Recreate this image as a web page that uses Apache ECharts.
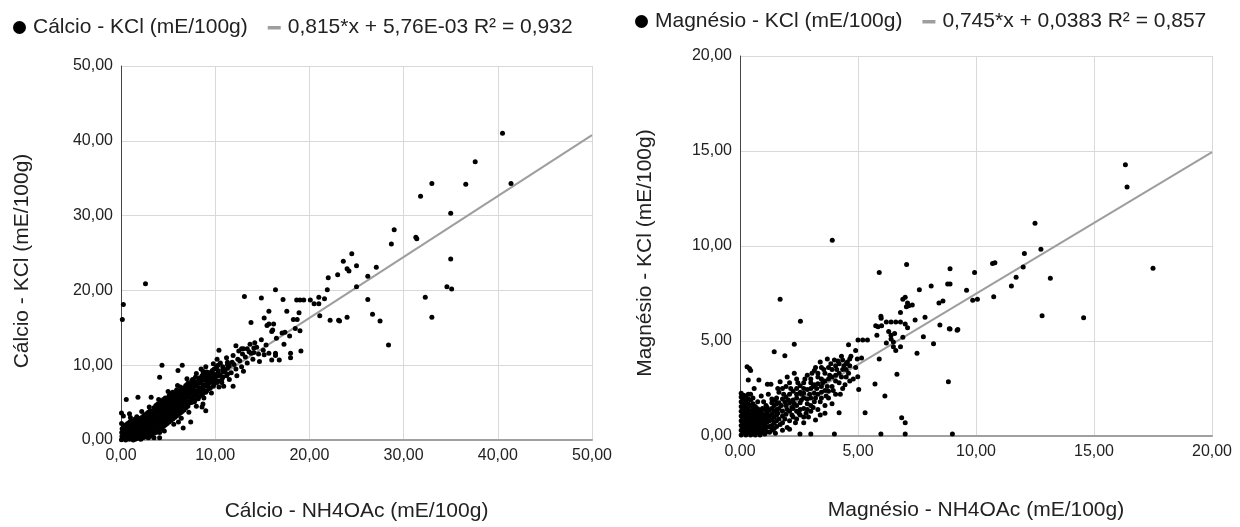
<!DOCTYPE html>
<html>
<head>
<meta charset="utf-8">
<style>
  html, body { margin: 0; padding: 0; background: #fff; }
  #chart { width: 1240px; height: 527px; }
</style>
<script src="https://cdn.jsdelivr.net/npm/echarts@6.0.0/dist/echarts.min.js"></script>
</head>
<body>
<div id="chart"></div>
<script>
// --- Cálcio: NH4OAc (x) vs KCl (y) ---
const calcioNome = 'Cálcio - KCl (mE/100g)';
const calcioTendNome = '0,815*x + 5,76E-03 R² = 0,932';
const calcioTend = [0.815, 0.00576]; // inclinação, intercepto
const calcioEixoX = [0, 50, 10];
const calcioEixoY = [0, 50, 10];

// nuvem densa junto da reta
const calcioBanda = [
  [0.05,0.02],[0.1,0.5],[0.08,1.0],[0.12,1.5],[0.06,2.2],
  [0.5,0.0],[0.45,0.4],[0.55,0.9],[0.5,1.4],[0.48,2.0],
  [0.9,0.1],[0.95,0.5],[0.85,1.0],[0.9,1.6],[0.92,2.4],
  [1.3,0.0],[1.25,0.6],[1.35,1.1],[1.3,1.7],[1.28,2.3],
  [1.7,0.2],[1.75,0.8],[1.65,1.3],[1.7,1.9],[1.72,2.6],[1.68,3.1],
  [2.1,0.1],[2.15,0.6],[2.05,1.1],[2.1,1.7],[2.12,2.3],[2.08,2.9],
  [2.5,0.4],[2.55,1.0],[2.45,1.5],[2.5,2.1],[2.52,2.7],[2.48,3.3],
  [2.9,0.3],[2.95,0.9],[2.85,1.5],[2.9,2.0],[2.92,2.6],[2.88,3.2],[2.9,3.7],
  [3.3,0.7],[3.35,1.3],[3.25,1.9],[3.3,2.5],[3.32,3.0],[3.28,3.6],
  [3.7,1.0],[3.75,1.6],[3.65,2.2],[3.7,2.8],[3.72,3.4],[3.68,4.0],[3.7,4.6],
  [4.1,1.4],[4.15,2.0],[4.05,2.6],[4.1,3.2],[4.12,3.8],[4.08,4.4],
  [4.5,1.8],[4.55,2.4],[4.45,3.0],[4.5,3.6],[4.52,4.2],[4.48,4.8],[4.5,5.4],
  [4.9,2.2],[4.95,2.8],[4.85,3.4],[4.9,4.0],[4.92,4.6],[4.88,5.2],
  [5.3,2.6],[5.35,3.2],[5.25,3.8],[5.3,4.4],[5.32,5.0],[5.28,5.6],[5.3,6.2],
  [5.7,3.0],[5.75,3.6],[5.65,4.2],[5.7,4.8],[5.72,5.4],[5.68,6.0],
  [6.1,3.4],[6.15,4.0],[6.05,4.6],[6.1,5.2],[6.12,5.8],[6.08,6.4],
  [6.5,3.8],[6.55,4.4],[6.45,5.0],[6.5,5.6],[6.52,6.2],[6.48,6.9],
  [6.9,4.3],[6.95,4.9],[6.85,5.5],[6.9,6.1],[6.92,6.7],[6.88,7.3],
  [7.2,4.9],[7.4,5.5],[7.1,6.1],[7.45,6.5],[7.3,7.3],
  [7.8,5.1],[7.6,5.8],[7.9,6.2],[7.65,7.0],[7.85,7.5],[7.6,8.1],
  [8.2,5.5],[8.0,6.3],[8.25,6.7],[8.05,7.5],[8.3,8.1],
  [8.6,6.0],[8.4,6.5],[8.7,7.1],[8.45,7.9],[8.6,8.6],
  [9.0,6.4],[8.8,7.3],[9.1,7.6],[8.85,8.2],[9.05,9.0],
  [9.4,6.9],[9.2,7.4],[9.5,8.2],[9.35,8.8],
  [9.8,7.2],[9.6,7.9],[9.9,8.5],[9.7,9.3],
  [10.2,7.7],[10.0,8.4],[10.3,8.9],[10.15,9.8],
  [10.7,8.1],[10.5,8.7],[10.8,9.4],[10.55,10.3],
  [11.2,8.6],[11.0,9.2],[11.3,10.1],
  [11.7,9.0],[11.5,9.9],[11.8,10.4],
  [12.2,9.5],[12.0,10.1],[12.4,10.8],
  [12.8,9.8],[12.6,10.6],[12.9,11.5],
  [13.4,10.3],[13.2,11.1],[13.6,11.8],
  [14.0,10.8],[13.8,11.6],
  [14.6,11.5],[14.4,12.4]
];

// segunda camada da nuvem, entre os pontos acima
const calcioBanda2 = [
  [0.3,0.25],[0.3,0.75],[0.3,1.25],[0.3,1.8],
  [0.7,0.2],[0.7,0.7],[0.7,1.2],[0.7,1.7],[0.7,2.2],
  [1.1,0.3],[1.1,0.8],[1.1,1.35],[1.1,1.9],[1.1,2.6],
  [1.5,0.1],[1.5,0.5],[1.5,1.05],[1.5,1.6],[1.5,2.2],[1.5,2.8],
  [1.9,0.4],[1.9,0.95],[1.9,1.5],[1.9,2.1],[1.9,2.7],
  [2.3,0.3],[2.3,0.85],[2.3,1.4],[2.3,2.0],[2.3,2.6],[2.3,3.1],
  [2.7,0.65],[2.7,1.25],[2.7,1.8],[2.7,2.35],[2.7,2.9],[2.7,3.5],
  [3.1,0.5],[3.1,1.1],[3.1,1.7],[3.1,2.25],[3.1,2.8],[3.1,3.35],[3.1,3.9],
  [3.5,0.9],[3.5,1.5],[3.5,2.1],[3.5,2.6],[3.5,3.2],[3.5,3.8],[3.5,4.3],
  [3.9,1.2],[3.9,1.8],[3.9,2.4],[3.9,3.0],[3.9,3.6],[3.9,4.2],[3.9,4.8],
  [4.3,1.6],[4.3,2.2],[4.3,2.8],[4.3,3.4],[4.3,4.0],[4.3,4.6],[4.3,5.1],
  [4.7,2.0],[4.7,2.6],[4.7,3.2],[4.7,3.8],[4.7,4.4],[4.7,5.0],[4.7,5.6],
  [5.1,2.4],[5.1,3.0],[5.1,3.6],[5.1,4.2],[5.1,4.8],[5.1,5.4],[5.1,5.9],
  [5.5,2.8],[5.5,3.4],[5.5,4.0],[5.5,4.6],[5.5,5.2],[5.5,5.8],[5.5,6.4],
  [5.9,3.2],[5.9,3.8],[5.9,4.4],[5.9,5.0],[5.9,5.6],[5.9,6.2],[5.9,6.7],
  [6.3,3.6],[6.3,4.2],[6.3,4.8],[6.3,5.4],[6.3,6.0],[6.3,6.6],[6.3,7.1],
  [6.7,4.0],[6.7,4.6],[6.7,5.2],[6.7,5.8],[6.7,6.4],[6.7,7.0],
  [7.1,4.5],[7.1,5.1],[7.1,5.7],[7.1,6.4],[7.1,7.0],[7.1,7.6],
  [7.5,5.0],[7.5,5.6],[7.5,6.2],[7.5,6.8],[7.5,7.4],[7.5,7.9],
  [7.9,5.4],[7.9,6.0],[7.9,6.6],[7.9,7.2],[7.9,7.8],[7.9,8.4],
  [8.3,5.8],[8.3,6.4],[8.3,7.0],[8.3,7.6],[8.3,8.3],
  [8.7,6.2],[8.7,6.8],[8.7,7.4],[8.7,8.0],[8.7,8.7],[8.7,9.2],
  [9.1,6.6],[9.1,7.2],[9.1,7.9],[9.1,8.5],[9.1,9.1],
  [9.5,7.0],[9.5,7.7],[9.5,8.4],[9.5,9.0],
  [9.9,7.5],[9.9,8.1],[9.9,8.8],[9.9,9.5],
  [10.3,7.9],[10.3,8.6],[10.3,9.3],[10.3,10.0],
  [10.8,8.4],[10.8,9.1],[10.8,9.8],
  [11.3,8.8],[11.3,9.6],[11.3,10.4]
];

// bordas da nuvem, menos densas
const calcioBorda = [
  [12.3,8.6],[11.9,11.3],[12.5,11.9],[13.0,9.2],[11.2,11.0],[10.2,10.8],[9.8,10.2],
  [9.0,9.8],[8.5,9.5],[13.7,12.8],[14.7,10.5],[15.1,12.0],[14.9,13.4],[15.4,12.7],
  [12.2,12.6],[11.5,8.1],[10.7,7.7],
  [1.0,3.0],[2.2,3.8],[3.0,4.4],[4.0,5.4],[5.0,6.5],[6.0,7.3],[7.0,8.2],[8.0,8.9],
  [3.5,0.3],[4.6,1.2],[5.6,2.1],[6.4,2.9],[7.2,3.7],[8.0,4.5],[8.8,5.6],[9.6,6.3],[10.4,7.1]
];

// pontos soltos
const calcioDispersos = [
  [40.5,41.0],[37.6,37.2],[33.0,34.3],[41.4,34.3],[36.6,34.2],[31.8,32.6],[35.0,30.3],
  [29.0,28.1],[28.7,26.2],[31.3,27.1],[31.4,26.9],[24.5,24.9],[23.6,23.9],[24.0,22.9],
  [24.2,22.6],[25.0,23.3],[27.1,23.1],[26.2,21.9],[35.0,24.2],[25.0,20.5],[34.6,20.5],
  [35.1,20.2],[32.3,19.1],[26.2,18.8],[26.7,16.8],[27.5,15.9],[24.0,16.4],[33.0,16.4],
  [28.4,12.7],[23.2,15.9],
  [2.6,20.9],[0.25,18.1],[0.14,16.1],
  [22.0,21.7],[23.0,22.1],[21.9,20.1],[16.4,20.1],[13.1,19.2],[14.9,19.0],[17.2,18.8],
  [18.65,18.7],[19.0,18.7],[19.4,18.7],[20.1,18.7],[21.0,19.1],[21.6,18.9],[20.5,18.2],
  [21.0,18.2],[15.7,17.2],[17.6,17.2],[18.9,17.0],[21.1,16.6],[15.2,16.3],[18.3,16.1],
  [22.2,16.0],[23.1,16.0],[13.8,15.7],[15.7,15.5],[16.2,15.5],[18.7,16.1],[16.1,14.7],
  [16.0,14.5],[15.5,15.3],[16.5,13.6],[17.1,14.3],[17.4,14.4],[17.9,13.9],[18.5,14.9],
  [19.0,14.6],[17.3,12.8],[19.1,11.9],[18.0,11.6],[18.0,11.0],[16.4,11.6],[16.4,11.3],
  [16.0,10.7],[16.8,10.7],[15.7,11.6],[15.2,11.4],[14.2,13.0],[12.8,12.2],[13.0,12.2],
  [13.4,12.2],[10.4,12.0],[14.1,12.3],[14.1,11.7],
  [4.35,10.0],[6.5,10.0],[4.1,8.4],[6.05,9.3],[0.56,5.4],[1.8,5.7],[3.2,5.7],[0.05,3.6],
  [0.9,3.5],[0.25,3.2],[4.1,1.0],[4.1,0.3],[6.1,2.4],[6.6,1.6],[7.4,2.4],[8.7,4.8],
  [9.0,3.9],[8.6,4.4],[9.3,9.0],[9.1,8.4],[10.9,7.2],[11.9,7.2]
];

// --- Magnésio: NH4OAc (x) vs KCl (y) ---
const magnesioNome = 'Magnésio - KCl (mE/100g)';
const magnesioTendNome = '0,745*x + 0,0383 R² = 0,857';
const magnesioTend = [0.745, 0.0383];
const magnesioEixoX = [0, 20, 5];
const magnesioEixoY = [0, 20, 5];

const magnesioBanda = [
  [0.05,0.05],[0.05,0.3],[0.05,0.55],[0.05,0.8],[0.05,1.05],[0.05,1.3],[0.05,1.55],[0.05,1.8],[0.05,2.05],[0.05,2.25],
  [0.25,0.05],[0.25,0.3],[0.25,0.55],[0.25,0.8],[0.25,1.05],[0.25,1.3],[0.25,1.55],[0.25,1.8],[0.25,2.1],
  [0.45,0.05],[0.45,0.3],[0.45,0.55],[0.45,0.8],[0.45,1.05],[0.45,1.3],[0.45,1.6],[0.45,1.9],[0.45,2.2],
  [0.65,0.05],[0.65,0.3],[0.65,0.55],[0.65,0.8],[0.65,1.05],[0.65,1.3],[0.65,1.55],
  [0.85,0.05],[0.85,0.3],[0.85,0.55],[0.85,0.8],[0.85,1.05],[0.85,1.3],
  [1.05,0.1],[1.05,0.35],[1.05,0.6],[1.05,0.85],[1.05,1.1],[1.05,1.4],
  [1.25,0.2],[1.25,0.5],[1.25,0.8],[1.25,1.05],[1.25,1.35],
  [1.45,0.4],[1.45,0.7],[1.45,1.0],[1.45,1.3],[1.45,1.6],
  [1.5,1.9],[1.6,1.2],[1.7,0.6],[1.75,1.6],[1.85,2.2],[1.9,0.9],[2.0,1.4],[2.05,1.9],
  [2.15,2.5],[2.2,1.1],[2.3,1.7],[2.35,0.7],[2.4,2.2],[2.45,2.8],[2.55,1.4],[2.6,1.9],
  [2.7,2.5],[2.75,3.0],[2.8,1.2],[2.85,1.7],[2.95,2.2],[3.0,2.8],[3.05,3.3],[3.1,1.5],
  [3.2,2.0],[3.25,2.5],[3.3,3.1],[3.4,1.8],[3.45,2.3],[3.5,2.8],[3.55,3.5],[3.65,2.1],
  [3.7,2.6],[3.8,3.2],[3.85,3.8],[3.9,1.7],[3.95,2.4],[4.05,2.9],[4.1,3.5],[4.15,3.95],
  [4.25,2.2],[4.3,3.1],[4.4,3.7],[4.45,2.7],[4.55,3.9],[4.6,3.3],[4.7,4.2],[4.8,3.0],
  [4.9,3.6],[4.97,4.05],[5.15,4.1],[4.6,4.8],[4.9,4.5],[5.0,5.05],[5.2,5.05],[5.4,5.05],
  [5.03,2.45],[4.99,3.12],
  [0.8,2.95],[0.35,2.95],[0.3,3.65],[0.4,3.55],[0.45,3.45],[1.16,2.72],[1.31,2.72],
  [0.6,2.5],[0.9,2.1],[1.0,1.8],[1.2,2.2],[1.35,1.95],[1.1,1.6],[0.75,1.8],[1.7,2.86],
  [2.0,3.1],[2.3,3.3],[1.6,2.5],[2.1,0.35],[2.0,0.45],[3.2,0.84],[3.6,1.2],[4.2,1.23],
  [3.4,1.1],[2.7,0.7],[1.8,0.3],[1.5,0.15],[3.4,3.9],[3.7,4.05],[4.0,4.0],[3.2,3.6],
  [4.3,4.2],[4.5,3.5],[2.5,1.2],[2.9,1.0],[3.1,2.6],[2.6,2.2],[2.2,1.5],[1.9,1.8]
];

// segunda camada do bloco denso perto da origem
const magnesioBanda2 = [
  [0.15,0.18],[0.15,0.43],[0.15,0.68],[0.15,0.93],[0.15,1.18],[0.15,1.43],[0.15,1.68],[0.15,1.93],[0.15,2.15],
  [0.35,0.18],[0.35,0.43],[0.35,0.68],[0.35,0.93],[0.35,1.18],[0.35,1.43],[0.35,1.68],[0.35,1.95],[0.35,2.2],
  [0.55,0.18],[0.55,0.43],[0.55,0.68],[0.55,0.93],[0.55,1.18],[0.55,1.43],[0.55,1.7],[0.55,2.0],
  [0.75,0.18],[0.75,0.43],[0.75,0.68],[0.75,0.93],[0.75,1.18],[0.75,1.43],
  [0.95,0.18],[0.95,0.43],[0.95,0.68],[0.95,0.93],[0.95,1.18],[0.95,1.45],
  [1.15,0.22],[1.15,0.48],[1.15,0.72],[1.15,0.98],[1.15,1.22],[1.15,1.5],
  [1.35,0.3],[1.35,0.55],[1.35,0.85],[1.35,1.15],[1.35,1.45],[1.35,1.75],
  [1.55,0.5],[1.55,0.8],[1.55,1.1],[1.55,1.4],[1.55,1.7],[1.55,2.0],
  [1.65,0.9],[1.65,1.45],[1.65,1.75],[1.65,2.3],
  [1.8,0.7],[1.8,1.05],[1.8,1.3],[1.8,1.95],[1.8,2.5],
  [1.95,1.15],[1.95,1.6],[1.95,2.05],[1.95,2.6],
  [2.1,0.8],[2.1,1.3],[2.1,1.75],[2.1,2.2],[2.1,2.8],
  [2.25,1.0],[2.25,1.45],[2.25,1.9],[2.25,2.35],
  [2.4,0.9],[2.4,1.3],[2.4,1.6],[2.4,2.0],[2.4,2.5],[2.4,3.0],
  [2.55,1.1],[2.55,1.75],[2.55,2.3],[2.55,2.65],
  [2.7,1.0],[2.7,1.45],[2.7,2.0],[2.7,2.25],[2.7,2.8],
  [2.85,1.4],[2.85,1.95],[2.85,2.45],[2.85,3.2],
  [3.0,1.3],[3.0,1.6],[3.0,2.0],[3.0,2.5],[3.0,3.0],
  [3.15,1.8],[3.15,2.25],[3.15,2.7],[3.15,3.45],
  [3.3,1.4],[3.3,2.2],[3.3,2.75],[3.3,3.3],
  [3.45,2.0],[3.45,2.6],[3.45,3.0],[3.45,3.6],
  [3.6,1.6],[3.6,2.4],[3.6,2.9],[3.6,3.3],
  [3.75,2.0],[3.75,2.35],[3.75,3.0],[3.75,3.6],
  [3.9,2.6],[3.9,3.1],[3.9,3.5],
  [4.05,2.2],[4.05,3.2],[4.05,3.7],
  [4.2,2.8],[4.2,3.3],[4.2,3.8],
  [4.35,2.5],[4.35,3.5],[4.35,4.0],
  [4.5,3.1],[4.5,3.8],
  [4.65,2.9],[4.65,3.7],[4.65,4.05]
];

const magnesioDispersos = [
  [16.33,14.28],[16.4,13.1],[12.5,11.2],[12.75,9.83],[12.05,9.6],[10.7,9.08],[10.8,9.12],
  [9.94,8.6],[8.9,8.8],[8.9,8.0],[8.8,8.0],[12.0,8.9],[11.7,8.35],[13.15,8.3],[11.5,7.9],
  [9.6,7.67],[9.86,7.14],[10.06,7.2],[10.75,7.33],[17.5,8.83],[12.8,6.33],[14.56,6.23],
  [8.9,5.63],[9.2,5.56],[9.0,0.1],
  [3.91,10.3],[7.06,9.03],[5.9,8.6],[8.1,7.9],[7.6,7.7],[6.9,7.2],[7.0,7.3],[7.1,7.0],
  [7.3,6.9],[7.05,6.8],[7.15,6.85],[8.43,7.0],[8.6,7.1],[7.84,6.25],[6.8,6.5],[5.97,6.3],
  [5.98,6.2],[6.2,6.0],[6.4,6.0],[6.6,6.0],[6.8,6.0],[5.75,5.8],[5.85,5.75],[6.0,5.8],
  [7.0,5.9],[7.1,5.7],[8.47,5.84],[7.42,6.1],[6.3,5.5],[6.4,5.3],[6.5,4.95],[6.4,5.1],
  [6.55,5.4],[5.8,5.3],[6.9,5.2],[7.77,5.23],[8.87,5.65],[9.23,5.6],[8.83,2.86],[6.2,4.9],
  [6.5,4.7],[7.5,4.35],[6.6,4.5],[6.8,4.7],[5.9,4.05],[6.65,3.25],[5.72,2.74],[6.14,2.1],
  [5.3,1.23],[6.85,0.96],[7.0,0.7],[5.97,0.1],[7.0,0.1],[8.2,4.85],
  [1.45,4.44],[1.9,4.23],[2.3,4.83],[2.56,6.04],[1.7,7.2],[2.54,0.1],[3.0,0.1],[4.0,0.1]
];

const fonte = 'Liberation Sans';
const corTexto = '#222';
const fmt = v => v.toFixed(2).replace('.', ',');
const iconeTraco = 'path://M0,0 M17,13 M2,5 L15,5 L15,8.5 L2,8.5 Z';

function eixo(idx, lim, nome, gap, extra) {
  return Object.assign({
    type: 'value',
    gridIndex: idx,
    min: lim[0],
    max: lim[1],
    interval: lim[2],
    name: nome,
    nameLocation: 'middle',
    nameGap: gap,
    nameTextStyle: { fontFamily: fonte, fontSize: 21, color: corTexto },
    axisTick: { show: false },
    axisLabel: { formatter: fmt, fontFamily: fonte, fontSize: 16, color: corTexto },
    splitLine: { show: true, lineStyle: { color: '#d9d9d9', width: 1 } }
  }, extra);
}

function tendencia(coef, xmax) {
  return [[0, coef[1]], [xmax, coef[0] * xmax + coef[1]]];
}

const pontoEstilo = { color: '#000', opacity: 1 };

const chart = echarts.init(document.getElementById('chart'));
chart.setOption({
  animation: false,
  backgroundColor: '#fff',
  legend: [
    {
      left: 8, top: 12, itemWidth: 17, itemHeight: 13, itemGap: 18,
      selectedMode: false,
      textStyle: { fontFamily: fonte, fontSize: 21, color: corTexto },
      data: [{ name: calcioNome, icon: 'circle' }, { name: calcioTendNome, icon: iconeTraco }]
    },
    {
      left: 630, top: 6, itemWidth: 17, itemHeight: 13, itemGap: 18,
      selectedMode: false,
      textStyle: { fontFamily: fonte, fontSize: 21, color: corTexto },
      data: [{ name: magnesioNome, icon: 'circle' }, { name: magnesioTendNome, icon: iconeTraco }]
    }
  ],
  grid: [
    { left: 121, top: 66, width: 471, height: 375 },
    { left: 740, top: 56, width: 472, height: 380 }
  ],
  xAxis: [
    eixo(0, calcioEixoX, 'Cálcio - NH4OAc (mE/100g)', 61,
      { axisLine: { lineStyle: { color: '#a0a0a0', width: 2 } }, axisLabel: { formatter: fmt, fontFamily: fonte, fontSize: 16, color: corTexto, margin: 8 } }),
    eixo(1, magnesioEixoX, 'Magnésio - NH4OAc (mE/100g)', 64,
      { axisLine: { lineStyle: { color: '#a0a0a0', width: 2 } }, axisLabel: { formatter: fmt, fontFamily: fonte, fontSize: 16, color: corTexto, margin: 8 } })
  ],
  yAxis: [
    eixo(0, calcioEixoY, calcioNome, 88,
      { axisLine: { show: true, lineStyle: { color: '#444', width: 1 } },
        nameTextStyle: { fontFamily: fonte, fontSize: 21, color: corTexto, padding: [0, 16, 0, 0] } }),
    eixo(1, magnesioEixoY, magnesioNome, 84,
      { axisLine: { show: true, lineStyle: { color: '#444', width: 1 } },
        nameTextStyle: { fontFamily: fonte, fontSize: 21, color: corTexto, padding: [0, 14, 0, 0] } })
  ],
  series: [
    {
      name: calcioTendNome, type: 'line', xAxisIndex: 0, yAxisIndex: 0, z: 1,
      data: tendencia(calcioTend, calcioEixoX[1]), showSymbol: false, silent: true,
      itemStyle: { color: '#9e9e9e' }, lineStyle: { color: '#9e9e9e', width: 2 }
    },
    {
      name: calcioNome, type: 'scatter', xAxisIndex: 0, yAxisIndex: 0, z: 3,
      data: calcioBanda.concat(calcioBanda2, calcioBorda, calcioDispersos), symbolSize: 5,
      itemStyle: pontoEstilo
    },
    {
      name: magnesioTendNome, type: 'line', xAxisIndex: 1, yAxisIndex: 1, z: 1,
      data: tendencia(magnesioTend, magnesioEixoX[1]), showSymbol: false, silent: true,
      itemStyle: { color: '#9e9e9e' }, lineStyle: { color: '#9e9e9e', width: 2 }
    },
    {
      name: magnesioNome, type: 'scatter', xAxisIndex: 1, yAxisIndex: 1, z: 3,
      data: magnesioBanda.concat(magnesioBanda2, magnesioDispersos), symbolSize: 5,
      itemStyle: pontoEstilo
    }
  ]
});
</script>
</body>
</html>
